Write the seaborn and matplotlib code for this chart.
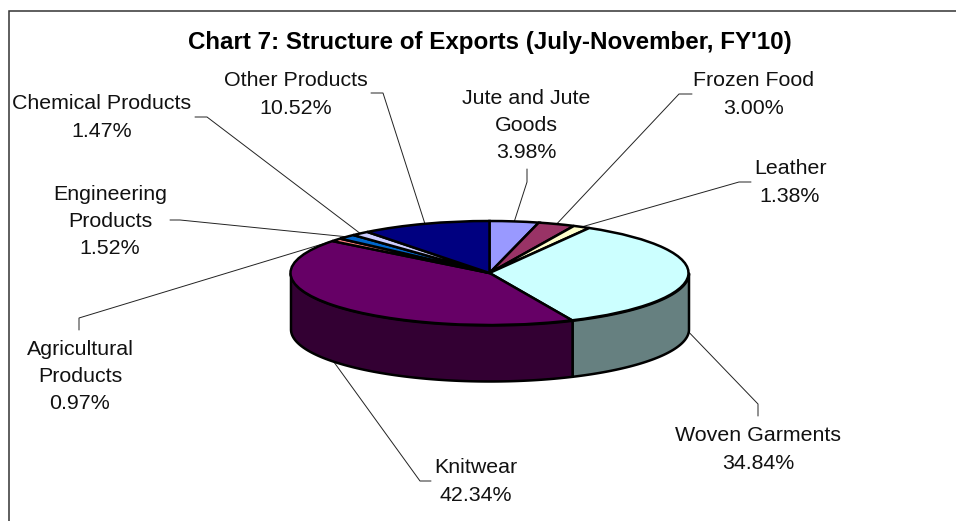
import matplotlib.pyplot as plt
import numpy as np
import seaborn as sns

# chart values, clockwise from 12 o'clock
categories = ["Jute and Jute\nGoods", "Frozen Food", "Leather", "Woven Garments", "Knitwear",
              "Agricultural\nProducts", "Engineering\nProducts", "Chemical Products", "Other Products"]
shares = [3.98, 3.00, 1.38, 34.84, 42.34, 0.97, 1.52, 1.47, 10.52]
top_colors = ["#9999FF", "#993366", "#FFFFCC", "#CCFFFF", "#660066",
              "#FF8080", "#0066CC", "#CCCCFF", "#000080"]
side_colors = {"Woven Garments": "#668080", "Knitwear": "#330033"}

# label centres and leader elbows, in pixels of the 956x521 picture
label_xy = [(526, 125.5), (754, 94.5), (790, 182.5), (758, 449.5), (476, 481.5),
            (80, 376.5), (110, 221.5), (102, 117.5), (296, 94.5)]
leader_px = [[(527, 182), (527, 169)], [(679, 94), (692, 94)], [(739, 182), (751, 182)],
             [(758, 404), (758, 416)], [(420, 481), (431, 481)], [(79, 318), (79, 330)],
             [(180, 220), (170, 220)], [(207, 117), (195, 117)], [(383, 93), (371, 93)]]

W, H = 956, 521
CX, CY, RX, RY, DEPTH = 489.5, 273, 199, 52, 56

sns.set_theme(style="white")
plt.rcParams['font.family'] = ['Liberation Sans', 'DejaVu Sans']


def px(x, y):
    # picture pixels -> axes data, where the pie is the unit circle
    return (x - CX) / RX, (CY - y) / RY


fig = plt.figure(figsize=(W / 100, H / 100), dpi=100, facecolor="white")
ax = fig.add_axes([0, 0, 1, 1])

wedges, _ = ax.pie(shares, colors=sns.color_palette(top_colors), startangle=90, counterclock=False,
                   radius=1, wedgeprops=dict(edgecolor="black", linewidth=1.8, zorder=3))
ax.set_aspect("auto")
ax.set_xlim(px(0, 0)[0], px(W, 0)[0])
ax.set_ylim(px(0, H)[1], px(0, 0)[1])
ax.axis("off")

# cumulative angle, clockwise from the top
edges = np.concatenate([[0], np.cumsum(shares)]) / np.sum(shares) * 2 * np.pi
mids = (edges[:-1] + edges[1:]) / 2
depth = DEPTH / RY

# rim wall, only the front half of the pie shows
for name, color in side_colors.items():
    i = categories.index(name)
    t0, t1 = max(edges[i], np.pi / 2), min(edges[i + 1], 3 * np.pi / 2)
    t = np.linspace(t0, t1, 120)
    ax.fill_between(np.sin(t), np.cos(t), np.cos(t) - depth, color=color, edgecolor="black",
                    linewidth=1.8, zorder=2)

# leaders go under the pie, front ones start from the bottom of the wall
for i, cat in enumerate(categories):
    x0, y0 = np.sin(mids[i]), np.cos(mids[i])
    if y0 < 0:
        y0 -= depth
    pts = [(x0, y0)] + [px(*p) for p in leader_px[i]]
    ax.plot(*zip(*pts), color="#222222", linewidth=0.7, zorder=1, solid_joinstyle="miter")
    tx, ty = px(*label_xy[i])
    ax.text(tx, ty, "%s\n%.2f%%" % (cat, shares[i]), ha="center", va="center", fontsize=15.4,
            color="#111111", linespacing=1.56)

ax.text(*px(489.5, 43), "Chart 7: Structure of Exports (July-November, FY'10)", ha="center", va="center",
        fontsize=17.35, fontweight="bold", color="black")

# the frame is cut off on the right and at the bottom
ax.plot(*zip(px(9, H), px(9, 11), px(W, 11)), color="#333333", linewidth=1.1, zorder=5,
        solid_joinstyle="miter")

fig.savefig("out.png", dpi=100, facecolor="white")
